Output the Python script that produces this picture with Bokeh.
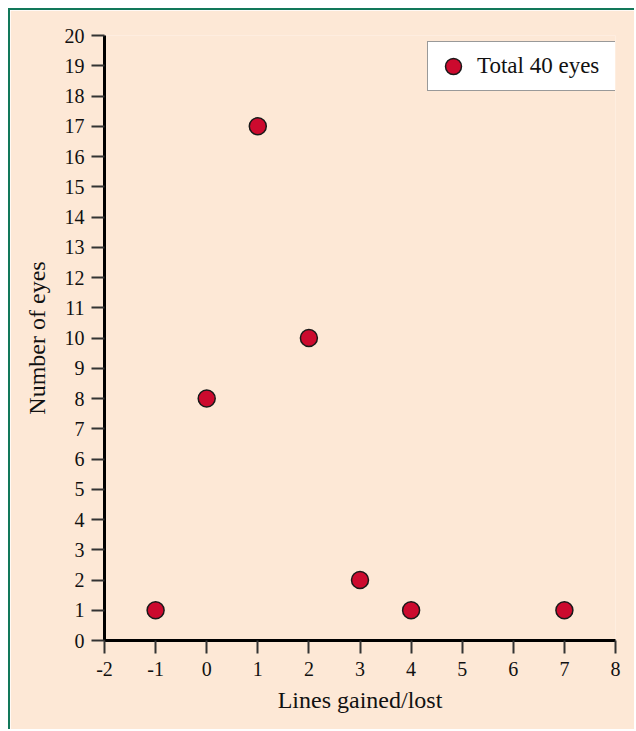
from bokeh.plotting import figure
from bokeh.models import FixedTicker, Range1d, Legend
from bokeh.embed import file_html
from bokeh.resources import INLINE

# data
lines_changed = [-1, 0, 1, 2, 3, 4, 7]
num_eyes = [1, 8, 17, 10, 2, 1, 1]
x_ticks = list(range(-2, 9))
y_ticks = list(range(0, 21))
series_label = "Total 40 eyes"

BG = "#fde8d6"
FONT = "Liberation Serif"

p = figure(width=626, height=721, output_backend="svg", toolbar_location=None,
           x_range=Range1d(-2, 8), y_range=Range1d(0, 20),
           min_border_left=94, min_border_right=21, min_border_top=25, min_border_bottom=91)
p.styles = {"margin-left": "8px", "margin-top": "8px",
            "border-top": "2px solid #12785a", "border-left": "2px solid #12785a"}
p.background_fill_color = BG
p.border_fill_color = BG
p.outline_line_color = None
p.xgrid.visible = False
p.ygrid.visible = False

r = p.scatter(lines_changed, num_eyes, size=17, fill_color="#cc0a2e",
              line_color="#1a1a1a", line_width=1.5)

for ax, ticks in ((p.xaxis[0], x_ticks), (p.yaxis[0], y_ticks)):
    ax.ticker = FixedTicker(ticks=ticks)
    ax.major_label_overrides = {t: str(t) for t in ticks}
    ax.minor_tick_line_color = None
    ax.axis_line_width = 3
    ax.axis_line_color = "black"
    ax.major_tick_line_width = 2
    ax.major_tick_line_color = "#333333"
    ax.major_tick_out = 13
    ax.major_tick_in = 0
    ax.major_label_text_font = FONT
    ax.major_label_text_font_size = "20px"
    ax.major_label_text_color = "#111111"
    ax.axis_label_text_font = FONT
    ax.axis_label_text_font_size = "24px"
    ax.axis_label_text_font_style = "normal"
    ax.axis_label_text_color = "#111111"

p.xaxis.axis_label = "Lines gained/lost"
p.yaxis.axis_label = "Number of eyes"
p.xaxis.major_label_standoff = 8
p.yaxis.major_label_standoff = 7
p.xaxis.axis_label_standoff = 8
p.yaxis.axis_label_standoff = 12

legend = Legend(items=[(series_label, [r])], location=(323, 549))
legend.padding = 4
legend.margin = 0
legend.glyph_width = 42
legend.glyph_height = 40
legend.label_standoff = 3
legend.label_width = 135
legend.label_text_font = FONT
legend.label_text_font_size = "23px"
legend.label_text_color = "#111111"
legend.border_line_color = "#333333"
legend.border_line_width = 1.5
legend.background_fill_color = "white"
legend.background_fill_alpha = 1.0
p.add_layout(legend, "center")

open("out.html", "w").write(file_html(p, INLINE))
